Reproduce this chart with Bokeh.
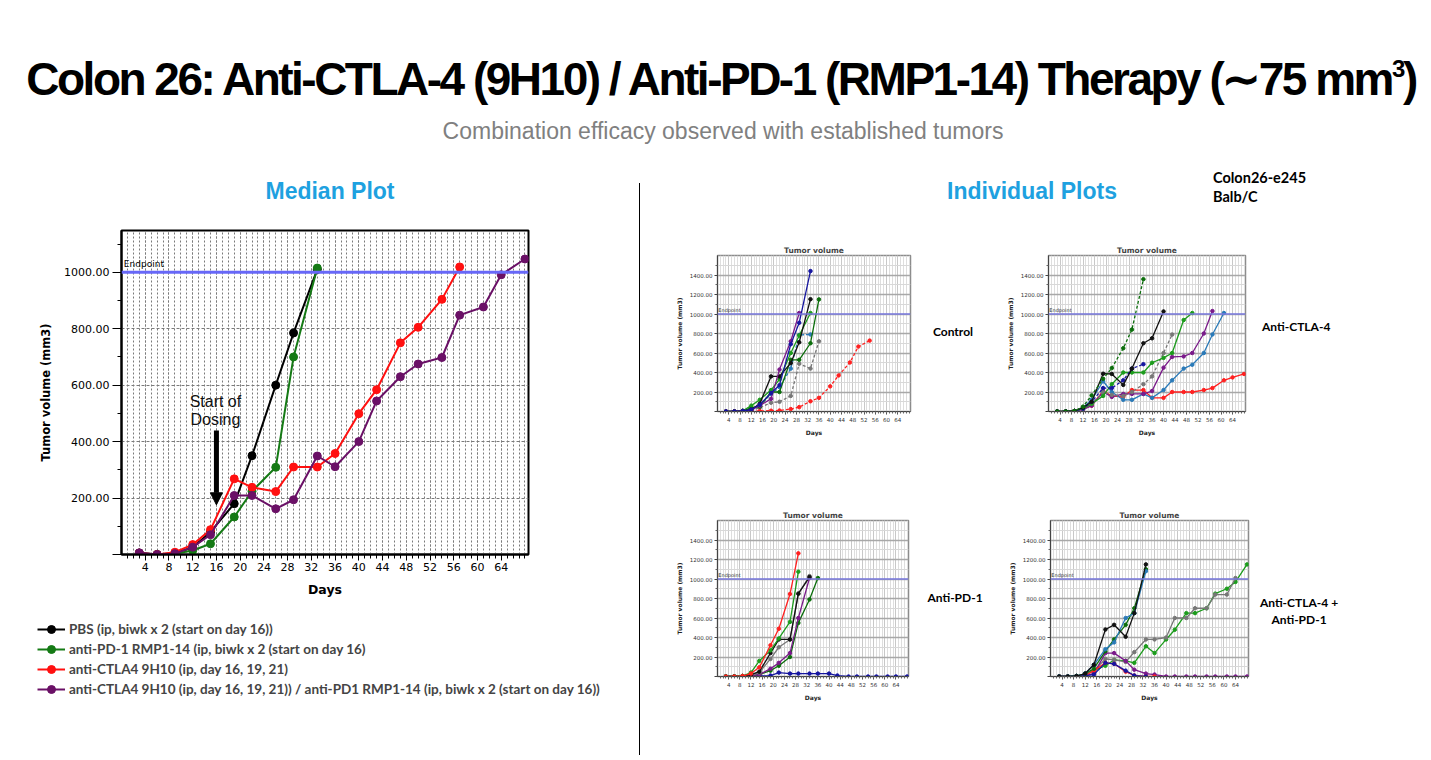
from bokeh.plotting import figure
from bokeh.models import (Div, Spacer, FixedTicker, Span, Label, Arrow, NormalHead,
                          Legend, LegendItem, Range1d, NumeralTickFormatter)
from bokeh.layouts import column, row
from bokeh.embed import file_html
from bokeh.resources import INLINE

# ---------------- data ----------------
days = [3, 6, 9, 12, 15, 19, 22, 26, 29, 33, 36, 40, 43, 47, 50, 54, 57, 61, 64, 68]

# median plot (tumor volume, mm3)
pbs_median = [5, 0, 5, 25, 80, 180, 350, 600, 785, 1010]
pd1_median = [5, 0, 3, 14, 38, 133, 224, 309, 700, 1015]
ctla4_median = [5, 0, 8, 35, 88, 268, 238, 223, 310, 310, 358, 499, 584, 750, 805, 904, 1019]
combo_median = [6, 0, 3, 26, 70, 209, 209, 162, 194, 349, 311, 400, 544, 630, 675, 698, 848, 877, 991, 1047]

legend_labels = [
    "PBS (ip, biwk x 2 (start on day 16))",
    "anti-PD-1 RMP1-14 (ip, biwk x 2 (start on day 16)",
    "anti-CTLA4 9H10 (ip, day 16, 19, 21)",
    "anti-CTLA4 9H10 (ip, day 16, 19, 21)) / anti-PD1 RMP1-14 (ip, biwk x 2 (start on day 16))",
]

# individual plots: Control
c_red = [0, 0, 0, 2, 5, 8, 10, 25, 45, 105, 140, 258, 370, 503, 666, 727]
c_blue = [0, 0, 5, 20, 70, 190, 270, 690, 910, 1440]
c_purple = [0, 0, 5, 15, 60, 130, 430, 720, 1010]
c_black = [0, 0, 5, 20, 80, 360, 360, 496, 710, 1152]
c_green1 = [0, 0, 8, 60, 120, 220, 330, 600, 780, 1010]
c_green2 = [0, 0, 5, 40, 50, 200, 200, 530, 530, 700, 1150]
c_steel = [0, 0, 5, 25, 60, 180, 250, 440, 785, 790]
c_gray = [0, 0, 3, 10, 40, 90, 100, 160, 490, 440, 720]

# individual plots: Anti-CTLA-4
a_green1 = [0, 0, 5, 50, 165, 335, 445, 649, 840, 1357]
a_black = [0, 0, 5, 40, 100, 387, 385, 273, 440, 700, 751, 1026]
a_blue = [0, 0, 5, 30, 100, 240, 240, 320, 440, 485]
a_green2 = [0, 0, 5, 30, 80, 160, 280, 400, 400, 400, 500, 550, 600, 938, 1010]
a_gray = [0, 0, 5, 30, 80, 200, 170, 160, 200, 280, 360, 600, 789]
a_purple = [0, 0, 5, 20, 60, 200, 150, 180, 180, 180, 210, 450, 560, 565, 600, 800, 1030]
a_steel = [0, 0, 5, 40, 120, 310, 200, 120, 120, 180, 140, 220, 320, 440, 480, 600, 790, 1010]
a_red = [0, 0, 5, 30, 60, 210, 160, 150, 220, 220, 140, 140, 200, 200, 200, 220, 240, 320, 350, 385]

# individual plots: Anti-PD-1
p_red = [0, 0, 5, 30, 94, 320, 490, 846, 1263]
p_green1 = [0, 0, 5, 40, 160, 268, 390, 560, 1075]
p_black = [0, 0, 5, 20, 50, 240, 380, 380, 850, 1020]
p_gray = [0, 0, 5, 20, 40, 180, 300, 380, 850, 1030]
p_purple = [0, 0, 3, 10, 20, 80, 140, 240, 600, 1010]
p_green2 = [0, 0, 3, 10, 20, 60, 110, 200, 550, 790, 1010]
p_blue = [0, 0, 0, 5, 5, 10, 40, 30, 30, 30, 30, 30, 10, 0, 0, 0, 0, 0, 0, 0]

# individual plots: Anti-CTLA-4 + Anti-PD-1
b_black = [0, 0, 5, 30, 120, 482, 530, 408, 650, 1150]
b_steel = [0, 0, 5, 30, 120, 280, 350, 600, 650, 1080]
b_green = [0, 0, 5, 30, 80, 260, 380, 530, 700, 1100]
b_gray = [0, 0, 5, 20, 60, 180, 170, 150, 250, 380, 380, 400, 600, 600, 700, 700, 840, 840, 1010]
b_lgreen = [0, 0, 5, 20, 60, 110, 170, 160, 140, 310, 240, 380, 480, 650, 650, 700, 850, 900, 970, 1150]
b_purple = [0, 0, 3, 10, 30, 240, 240, 160, 70, 30, 20, 0, 0, 0, 0, 0, 0, 0, 0, 0]
b_red = [0, 0, 3, 10, 60, 140, 130, 50, 10, 0, 0]
b_blue = [0, 0, 3, 10, 20, 140, 130, 60, 10, 0]

x_tick_days = [4, 8, 12, 16, 20, 24, 28, 32, 36, 40, 44, 48, 52, 56, 60, 64]
x_minor_days = list(range(1, 69))
y_ticks = [0, 200, 400, 600, 800, 1000]
y_minor = [100, 300, 500, 700, 900, 1100]
small_y_ticks = [0, 200, 400, 600, 800, 1000, 1200, 1400]
small_y_minor = [100, 300, 500, 700, 900, 1100, 1300, 1500]
endpoint_volume = 1000
dosing_day = 16
dosing_arrow = (439, 176)   # arrow start/end volume
dosing_text = [("Start of", 541), ("Dosing", 477)]

# ---------------- styles ----------------
TICKF = "DejaVu Sans"
BLACK = "#000000"
GREEN = "#157a15"
RED = "#ff1010"
PURPLE = "#6a1066"
median_colors = [BLACK, GREEN, RED, PURPLE]
median_series = [pbs_median, pd1_median, ctla4_median, combo_median]

s_black, s_green, s_dgreen = "#111111", "#1c9c1c", "#0b6e0b"
s_blue, s_purple, s_steel = "#1616a0", "#7a1a8a", "#2a7ab8"
s_red, s_gray = "#ff2020", "#777777"


def abs_div(w, h, items):
    parts = []
    for left, top, txt, css, tx in items:
        parts.append(
            f'<div style="position:absolute;left:{left}px;top:{top}px;white-space:nowrap;'
            f'transform:translate({tx},-50%);{css}">{txt}</div>')
    html = f'<div style="position:relative;width:{w}px;height:{h}px;overflow:visible;">' + "".join(parts) + "</div>"
    return Div(text=html, width=w, height=h, margin=0)


# ---------------- header ----------------
title_css = ("font-family:'Liberation Sans',Arial,sans-serif;font-weight:bold;font-size:46px;"
             "letter-spacing:-2.5px;color:#000;line-height:46px;")
sub_css = ("font-family:'Liberation Sans',Arial,sans-serif;font-size:23px;color:#808080;line-height:23px;")
blue_css = ("font-family:'Liberation Sans',Arial,sans-serif;font-weight:bold;font-size:23px;"
            "color:#1ea1e0;line-height:23px;")
header = abs_div(1431, 155, [
    (721, 79, 'Colon 26: Anti-CTLA-4 (9H10) / Anti-PD-1 (RMP1-14) Therapy (&#8764;75 mm'
              '<sup style="font-size:24px;vertical-align:18px;line-height:0">3</sup>)', title_css, "-50%"),
    (723, 131, "Combination efficacy observed with established tumors", sub_css, "-50%"),
])

# ---------------- median plot ----------------
p = figure(width=639, height=400, x_range=Range1d(0, 68.6), y_range=Range1d(0, 1148),
           output_backend="svg", toolbar_location=None,
           min_border_left=121, min_border_right=111, min_border_top=20, min_border_bottom=56,
           x_axis_label="Days", y_axis_label="Tumor volume (mm3)")
p.outline_line_color = "black"
p.outline_line_width = 2
xa, ya = p.xaxis[0], p.yaxis[0]
xa.ticker = FixedTicker(ticks=x_tick_days, minor_ticks=x_minor_days)
ya.ticker = FixedTicker(ticks=y_ticks, minor_ticks=y_minor)
ya.formatter = NumeralTickFormatter(format="0.00")
ya.major_label_overrides = {0: ""}
for ax in (xa, ya):
    ax.axis_line_width = 2
    ax.axis_line_color = "black"
    ax.major_tick_in = 0
    ax.minor_tick_in = 0
    ax.major_tick_line_color = "black"
    ax.minor_tick_line_color = "black"
    ax.major_label_text_font = TICKF
    ax.major_label_text_font_size = "11px"
    ax.major_label_text_color = "black"
    ax.axis_label_text_font = TICKF
    ax.axis_label_text_font_style = "bold"
    ax.axis_label_text_color = "black"
xa.major_tick_out = 6
xa.minor_tick_out = 4
xa.major_label_standoff = 2
xa.axis_label_standoff = 8
xa.axis_label_text_font_size = "12.5px"
ya.major_tick_out = 9
ya.minor_tick_out = 4
ya.major_label_standoff = 3
ya.axis_label_standoff = 8
ya.axis_label_text_font_size = "11.5px"

p.xgrid.grid_line_color = "#7a7a7a"
p.xgrid.grid_line_dash = "2 2"
p.xgrid.minor_grid_line_color = "#7a7a7a"
p.xgrid.minor_grid_line_dash = "2 2"
p.ygrid.grid_line_color = "#7a7a7a"
p.ygrid.grid_line_dash = "3 2"

p.add_layout(Span(location=endpoint_volume, dimension="width", line_color="#6868f8", line_width=3))
p.add_layout(Label(x=0.4, y=endpoint_volume, y_offset=3, text="Endpoint", text_font=TICKF,
                   text_font_size="9px", text_color="black"))

for vals, col in zip(median_series, median_colors):
    xs = days[:len(vals)]
    p.line(xs, vals, line_color=col, line_width=2)
    p.scatter(xs, vals, size=8, marker="circle", fill_color=col, line_color=col)

p.add_layout(Arrow(end=NormalHead(size=12, fill_color="black", line_color="black"),
                   x_start=dosing_day, y_start=dosing_arrow[0], x_end=dosing_day, y_end=dosing_arrow[1],
                   line_width=5, line_color="black"))
for txt, yv in dosing_text:
    p.add_layout(Label(x=dosing_day, x_offset=-1, y=yv, text=txt, text_align="center", text_baseline="middle",
                       text_font="Liberation Sans", text_font_size="16px", text_color="#111111"))

# legend panel: separate canvas; its renderers carry the same series but lie outside its ranges
lg = figure(width=639, height=150, x_range=Range1d(-20, -10), y_range=Range1d(-20, -10),
            output_backend="svg", toolbar_location=None, x_axis_type=None, y_axis_type=None,
            min_border=0, min_border_left=0, min_border_right=0, min_border_top=0, min_border_bottom=0)
lg.outline_line_color = None
lg.xgrid.visible = False
lg.ygrid.visible = False
items = []
for vals, col, lab in zip(median_series, median_colors, legend_labels):
    xs = days[:len(vals)]
    l = lg.line(xs, vals, line_color=col, line_width=2)
    s = lg.scatter(xs, vals, size=5, marker="circle", fill_color=col, line_color=col)
    items.append(LegendItem(label=lab, renderers=[l, s]))
leg = Legend(items=items, location=(37, 61), orientation="vertical", padding=0, spacing=0, margin=0,
             glyph_width=28, glyph_height=20, label_height=20, label_standoff=4,
             label_text_font="Lato", label_text_font_size="13.5px", label_text_font_style="bold",
             border_line_color=None, background_fill_alpha=0)
lg.add_layout(leg)

median_title = abs_div(639, 55, [(330, 36, "Median Plot", blue_css, "-50%")])
left_col = column(median_title, p, row(lg, spacing=0), spacing=0)

divider = column(Spacer(width=1, height=28, margin=0),
                 Div(text="", width=1, height=572, margin=0, styles={"background-color": "#000"}),
                 spacing=0)


# ---------------- individual plots ----------------
def small_fig(series, width, bl, br):
    f = figure(width=width, height=201, x_range=Range1d(0, 68.5), y_range=Range1d(0, 1600),
               output_backend="svg", toolbar_location=None, title="Tumor volume",
               min_border_left=bl, min_border_right=br, min_border_top=15, min_border_bottom=30,
               x_axis_label="Days", y_axis_label="Tumor volume (mm3)")
    f.title.align = "center"
    f.title.text_font = TICKF
    f.title.text_font_size = "7.5px"
    f.title.text_font_style = "bold"
    f.title.standoff = 2
    f.outline_line_color = "#8c8c8c"
    f.outline_line_width = 1.5
    fx, fy = f.xaxis[0], f.yaxis[0]
    fx.ticker = FixedTicker(ticks=x_tick_days, minor_ticks=x_minor_days)
    fy.ticker = FixedTicker(ticks=small_y_ticks, minor_ticks=small_y_minor)
    fy.formatter = NumeralTickFormatter(format="0.00")
    fy.major_label_overrides = {0: ""}
    for ax in (fx, fy):
        ax.axis_line_color = "#444444"
        ax.major_tick_in = 0
        ax.minor_tick_in = 0
        ax.major_tick_out = 3
        ax.minor_tick_out = 2
        ax.major_tick_line_color = "#444444"
        ax.minor_tick_line_color = "#666666"
        ax.major_label_text_font = TICKF
        ax.major_label_text_font_size = "5.5px"
        ax.major_label_text_color = "#333333"
        ax.major_label_standoff = 2
        ax.axis_label_text_font = TICKF
        ax.axis_label_text_font_style = "bold"
        ax.axis_label_text_font_size = "6px"
        ax.axis_label_text_color = "#222222"
        ax.axis_label_standoff = 4
    f.xgrid.grid_line_color = "#c8c8c8"
    f.xgrid.minor_grid_line_color = "#dedede"
    f.ygrid.grid_line_color = "#a8a8a8"
    f.ygrid.grid_line_width = 1.5
    f.ygrid.minor_grid_line_color = "#d8d8d8"
    f.add_layout(Span(location=endpoint_volume, dimension="width", line_color="#7a7ae0", line_width=1.5))
    f.add_layout(Label(x=0.3, y=endpoint_volume, y_offset=1, text="Endpoint", text_font=TICKF,
                       text_font_size="5px", text_color="#333333"))
    for vals, col, dash in series:
        xs = days[:len(vals)]
        f.line(xs, vals, line_color=col, line_width=1.3, line_dash=dash)
        f.scatter(xs, vals, size=3.5, marker="circle", fill_color=col, line_color=col)
    return f


f1 = small_fig([(c_gray, s_gray, "3 2"), (c_red, s_red, "3 2"), (c_steel, s_steel, "3 2"),
                (c_green2, s_dgreen, "solid"), (c_green1, s_green, "solid"), (c_black, s_black, "solid"),
                (c_purple, s_purple, "solid"), (c_blue, s_blue, "solid")], 240, 43, 2)
f2 = small_fig([(a_red, s_red, "solid"), (a_steel, s_steel, "solid"), (a_purple, s_purple, "solid"),
                (a_gray, s_gray, "3 2"), (a_green2, s_green, "solid"), (a_blue, s_blue, "3 2"),
                (a_black, s_black, "solid"), (a_green1, s_dgreen, "3 2")], 258, 56, 5)
f3 = small_fig([(p_blue, s_blue, "solid"), (p_green2, s_dgreen, "solid"), (p_purple, s_purple, "solid"),
                (p_gray, s_gray, "solid"), (p_black, s_black, "solid"), (p_green1, s_green, "solid"),
                (p_red, s_red, "solid")], 240, 41, 4)
f4 = small_fig([(b_lgreen, s_green, "solid"), (b_gray, s_gray, "solid"), (b_purple, s_purple, "solid"),
                (b_red, s_red, "solid"), (b_blue, s_blue, "solid"), (b_green, s_dgreen, "solid"),
                (b_steel, s_steel, "solid"), (b_black, s_black, "solid")], 258, 58, 2)

lab_css = "font-family:Lato,'Open Sans',sans-serif;font-weight:bold;font-size:12px;color:#000;line-height:14px;text-align:center;"
hdr_css = "font-family:Lato,'Open Sans',sans-serif;font-weight:bold;font-size:14.5px;color:#000;line-height:16px;text-align:left;"
right_header = abs_div(791, 55, [
    (392, 36, "Individual Plots", blue_css, "-50%"),
    (573, 23, "Colon26-e245", hdr_css, "0"),
    (573, 42, "Balb/C", hdr_css, "0"),
])
lab1 = abs_div(80, 201, [(41, 92, "Control", lab_css, "-50%")])
lab2 = abs_div(181, 201, [(12, 87, "Anti-CTLA-4", lab_css, "0")])
lab3 = abs_div(80, 201, [(43, 93, "Anti-PD-1", lab_css, "-50%")])
lab4 = abs_div(181, 201, [(49, 98, "Anti-CTLA-4 +", lab_css, "-50%"), (49, 115, "Anti-PD-1", lab_css, "-50%")])

right_col = column(
    right_header,
    Spacer(width=791, height=30, margin=0),
    row(Spacer(width=32, height=201, margin=0), f1, lab1, f2, lab2, spacing=0),
    Spacer(width=791, height=64, margin=0),
    row(Spacer(width=32, height=201, margin=0), f3, lab3, f4, lab4, spacing=0),
    spacing=0,
)

root = column(header, row(left_col, divider, right_col, spacing=0), spacing=0)

open("out.html", "w").write(file_html(root, INLINE))
